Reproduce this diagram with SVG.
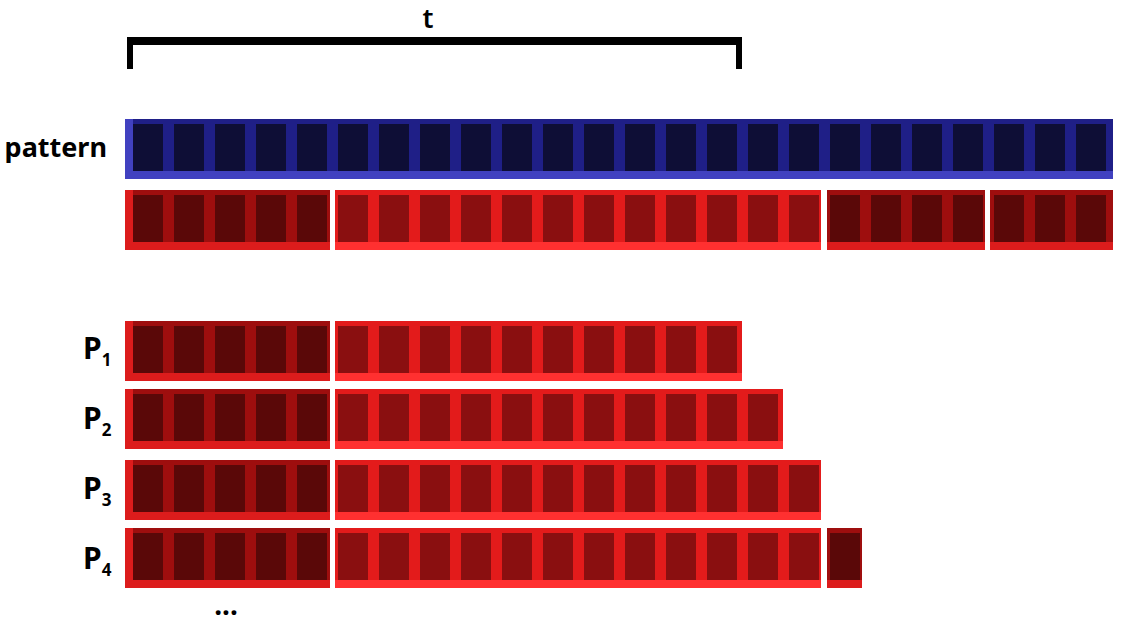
<svg xmlns="http://www.w3.org/2000/svg" xmlns:xlink="http://www.w3.org/1999/xlink" width="1147" height="623" viewBox="0 0 1147 623">
<style>
.lbl{font-family:"Noto Sans","Open Sans",sans-serif;font-weight:bold;fill:#000}
.aBase{fill:#9e0e0e}.aStrip{fill:#dc1c1c}
.bBase{fill:#e31b1b}.bStrip{fill:#ff3030}
.pBase{fill:#1f1f87}.pStrip{fill:#4141c0}
</style>
<defs>
<rect id="ca" width="30" height="47" y="5" fill="#5a0808"/>
<rect id="cb" width="30" height="47" y="5" fill="#8a0f10"/>
<rect id="cp" width="30" height="47" y="5" fill="#0e0e36"/>
<g id="segA1">
<rect class="aBase" x="125" y="0" width="205" height="60"/>
<rect class="aStrip" x="125" y="0" width="8" height="60"/>
<rect class="aStrip" x="125" y="52" width="205" height="8"/>
<use xlink:href="#ca" x="133"/><use xlink:href="#ca" x="174"/><use xlink:href="#ca" x="215"/><use xlink:href="#ca" x="256"/><use xlink:href="#ca" x="297"/>
</g>
<g id="cellsB10">
<use xlink:href="#cb" x="338"/><use xlink:href="#cb" x="379"/><use xlink:href="#cb" x="420"/><use xlink:href="#cb" x="461"/><use xlink:href="#cb" x="502"/><use xlink:href="#cb" x="543"/><use xlink:href="#cb" x="584"/><use xlink:href="#cb" x="625"/><use xlink:href="#cb" x="666"/><use xlink:href="#cb" x="707"/>
</g>
</defs>

<g id="bracket">
<rect x="127" y="37" width="615" height="8" fill="#000"/>
<rect x="127" y="37" width="6" height="32" fill="#000"/>
<rect x="736" y="37" width="6" height="32" fill="#000"/>
<text x="428" y="28" text-anchor="middle" style="font-family:'Noto Sans',sans-serif;font-size:27px;font-weight:600">t</text>
</g>

<g id="pattern">
<text class="lbl" x="107" y="157" text-anchor="end" font-size="27">pattern</text>
<g transform="translate(0,119)">
<rect class="pBase" x="125" y="0" width="988" height="60"/>
<rect class="pStrip" x="125" y="0" width="8" height="60"/>
<rect class="pStrip" x="125" y="52" width="988" height="8"/>
<use xlink:href="#cp" x="133"/><use xlink:href="#cp" x="174"/><use xlink:href="#cp" x="215"/><use xlink:href="#cp" x="256"/><use xlink:href="#cp" x="297"/><use xlink:href="#cp" x="338"/><use xlink:href="#cp" x="379"/><use xlink:href="#cp" x="420"/><use xlink:href="#cp" x="461"/><use xlink:href="#cp" x="502"/><use xlink:href="#cp" x="543"/><use xlink:href="#cp" x="584"/><use xlink:href="#cp" x="625"/><use xlink:href="#cp" x="666"/><use xlink:href="#cp" x="707"/><use xlink:href="#cp" x="748"/><use xlink:href="#cp" x="789"/><use xlink:href="#cp" x="830"/><use xlink:href="#cp" x="871"/><use xlink:href="#cp" x="912"/><use xlink:href="#cp" x="953"/><use xlink:href="#cp" x="994"/><use xlink:href="#cp" x="1035"/><use xlink:href="#cp" x="1076"/>
</g>
</g>

<g id="segmented" transform="translate(0,190)">
<use xlink:href="#segA1"/>
<rect class="bBase" x="335" y="0" width="486" height="60"/>
<rect class="bStrip" x="335" y="52" width="486" height="8"/>
<use xlink:href="#cellsB10"/><use xlink:href="#cb" x="748"/><use xlink:href="#cb" x="789"/>
<rect class="aBase" x="827" y="0" width="158" height="60"/>
<rect class="aStrip" x="827" y="52" width="158" height="8"/>
<use xlink:href="#ca" x="830"/><use xlink:href="#ca" x="871"/><use xlink:href="#ca" x="912"/><use xlink:href="#ca" x="953"/>
<rect class="aBase" x="990" y="0" width="123" height="60"/>
<rect class="aStrip" x="990" y="52" width="123" height="8"/>
<use xlink:href="#ca" x="994"/><use xlink:href="#ca" x="1035"/><use xlink:href="#ca" x="1076"/>
</g>

<g id="P1">
<text class="lbl" x="83" y="359" font-size="30">P<tspan font-size="17" dy="7">1</tspan></text>
<g transform="translate(0,321)">
<use xlink:href="#segA1"/>
<rect class="bBase" x="335" y="0" width="407" height="60"/>
<rect class="bStrip" x="335" y="52" width="407" height="8"/>
<use xlink:href="#cellsB10"/>
</g>
</g>

<g id="P2">
<text class="lbl" x="83" y="429" font-size="30">P<tspan font-size="17" dy="7">2</tspan></text>
<g transform="translate(0,389)">
<use xlink:href="#segA1"/>
<rect class="bBase" x="335" y="0" width="448" height="60"/>
<rect class="bStrip" x="335" y="52" width="448" height="8"/>
<use xlink:href="#cellsB10"/><use xlink:href="#cb" x="748"/>
</g>
</g>

<g id="P3">
<text class="lbl" x="83" y="499" font-size="30">P<tspan font-size="17" dy="7">3</tspan></text>
<g transform="translate(0,460)">
<use xlink:href="#segA1"/>
<rect class="bBase" x="335" y="0" width="486" height="60"/>
<rect class="bStrip" x="335" y="52" width="486" height="8"/>
<use xlink:href="#cellsB10"/><use xlink:href="#cb" x="748"/><use xlink:href="#cb" x="789"/>
</g>
</g>

<g id="P4">
<text class="lbl" x="83" y="569" font-size="30">P<tspan font-size="17" dy="7">4</tspan></text>
<g transform="translate(0,528)">
<use xlink:href="#segA1"/>
<rect class="bBase" x="335" y="0" width="486" height="60"/>
<rect class="bStrip" x="335" y="52" width="486" height="8"/>
<use xlink:href="#cellsB10"/><use xlink:href="#cb" x="748"/><use xlink:href="#cb" x="789"/>
<rect class="aBase" x="827" y="0" width="35" height="60"/>
<rect class="aStrip" x="827" y="52" width="35" height="8"/>
<use xlink:href="#ca" x="830"/>
</g>
</g>

<g id="ellipsis">
<text class="lbl" x="226" y="615" text-anchor="middle" font-size="28">...</text>
</g>
</svg>
